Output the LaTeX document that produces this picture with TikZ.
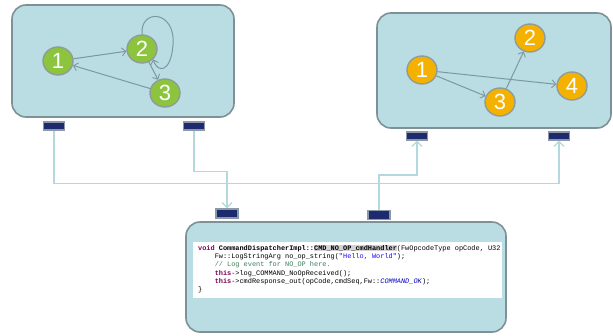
\documentclass[tikz,border=0pt]{standalone}
\usepackage{fontspec}
\setmainfont{Liberation Sans}
\newfontfamily\codefont{Liberation Mono}
\usetikzlibrary{arrows.meta,shapes.geometric}

\definecolor{panelfill}{HTML}{B9DDE2}
\definecolor{panelline}{HTML}{7E9196}
\definecolor{portfill}{HTML}{1E2A6E}
\definecolor{portline}{HTML}{8A98A8}
\definecolor{wire}{HTML}{B3D8DE}
\definecolor{edgecol}{HTML}{7C98A2}
\definecolor{greennode}{HTML}{8CC43E}
\definecolor{orangenode}{HTML}{F4B100}
\definecolor{nodering}{HTML}{8E9C9A}
\definecolor{kwcol}{HTML}{7F0055}
\definecolor{strcol}{HTML}{2A00FF}
\definecolor{cmtcol}{HTML}{3F7F5F}
\definecolor{constcol}{HTML}{0000C0}
\definecolor{hlcol}{HTML}{D4D4D4}

\tikzset{
  panel/.style={draw=panelline, line width=1.6pt, fill=panelfill, rounded corners=14pt},
  port/.style={draw=portline, line width=1.2pt, fill=portfill, minimum width=21pt, minimum height=8pt, inner sep=0pt},
  wireline/.style={draw=wire, line width=1.6pt, -{Straight Barb[length=5pt,width=10pt,line width=1.2pt]}},
  vertex/.style={ellipse, draw=nodering, line width=1.4pt, minimum width=30pt, minimum height=28pt, inner sep=0pt,
    text=white, font=\fontsize{22}{22}\selectfont},
  gvertex/.style={vertex, fill=greennode},
  overtex/.style={vertex, fill=orangenode},
  edge/.style={draw=edgecol, line width=1pt, -{Straight Barb[length=4pt,width=8pt,line width=0.9pt]}},
}

\begin{document}
\begin{tikzpicture}[x=1pt,y=-1pt]
\useasboundingbox (0,0) rectangle (613,335);
\fill[white] (0,0) rectangle (613,335);

% --- the three panels
\path[panel] (12,5) rectangle (234,117);
\path[panel] (377,13) rectangle (611,128);
\path[panel] (186,222) rectangle (506,332);

% --- code listing on a white strip inside the lower panel
\fill[white] (193,242) rectangle (502,298);
\begin{scope}
\clip (193,242) rectangle (502,298);
\node[anchor=north west, inner sep=0pt, align=left,
      font=\codefont\fontsize{6.9}{8.3}\selectfont] (code) at (198,245) {%
\textcolor{kwcol}{\textbf{void}} \textbf{CommandDispatcherImpl::}{\setlength\fboxsep{0pt}\colorbox{hlcol}{\textbf{CMD\_NO\_OP\_cmdHandler}}}(FwOpcodeType opCode, U32 cmdSeq) \{\\
\hphantom{xxxx}Fw::LogStringArg no\_op\_string(\textcolor{strcol}{"Hello, World"});\\
\hphantom{xxxx}\textcolor{cmtcol}{// Log event for NO\_OP here.}\\
\hphantom{xxxx}\textcolor{kwcol}{\textbf{this}}->log\_COMMAND\_NoOpReceived();\\
\hphantom{xxxx}\textcolor{kwcol}{\textbf{this}}->cmdResponse\_out(opCode,cmdSeq,Fw::\textcolor{constcol}{\textit{COMMAND\_OK}});\\
\}};
\end{scope}

% --- ports
\node[port] (lp1) at (54,126) {};
\node[port] (lp2) at (194,126) {};
\node[port] (rp1) at (417,136) {};
\node[port] (rp2) at (559,136) {};
\node[port, minimum width=22pt, minimum height=9pt] (bp1) at (227,213.5) {};
\node[port, minimum width=22pt, minimum height=9pt] (bp2) at (379,215) {};

% --- wiring between ports
\draw[wireline] (lp1.south) -- ++(0,53) -| (rp2.south);
\draw[wireline] (lp2.south) -- ++(0,41) -| (bp1.north);
\draw[wireline] (bp2.north) -- ++(0,-35) -| (rp1.south);

% --- left graph (green)
\node[gvertex] (g1) at (58,61) {1};
\node[gvertex] (g2) at (142,49) {2};
\node[gvertex] (g3) at (165,93) {3};
\draw[edge] (g1) -- (g2);
\draw[edge] (g3) -- (g1);
\draw[edge] (g2) -- (g3);
\draw[edge] (g2.north) .. controls (140,8) and (176,10) .. (173,45)
  .. controls (171,72) and (158,74) .. (g2.south east);

% --- right graph (orange)
\node[overtex] (o1) at (422,70) {1};
\node[overtex] (o2) at (530,38) {2};
\node[overtex] (o3) at (500,102) {3};
\node[overtex] (o4) at (572,86) {4};
\draw[edge] (o1) -- (o3);
\draw[edge] (o1) -- (o4);
\draw[edge] (o3) -- (o2);
\end{tikzpicture}
\end{document}
